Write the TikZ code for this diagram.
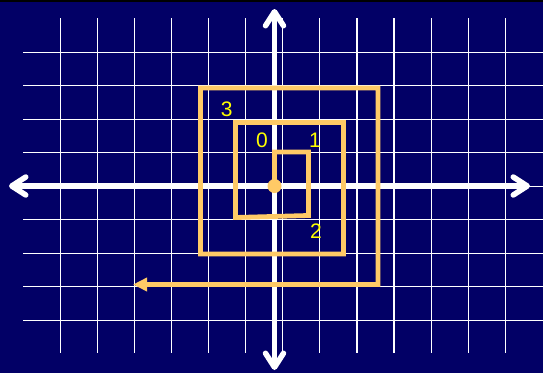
\documentclass[tikz,border=0pt]{standalone}
\usepackage{fontspec}
\setmainfont{Liberation Sans}
\usetikzlibrary{arrows.meta}
\definecolor{navybg}{RGB}{2,0,102}
\definecolor{spiralorange}{RGB}{255,202,102}
\definecolor{labelyellow}{RGB}{255,255,0}
\tikzset{
  gridline/.style={draw=white, line width=1.2pt},
  axisline/.style={draw=white, line width=5.5pt,
    {Straight Barb[length=14pt,width=18pt,line width=5.5pt,round]}-{Straight Barb[length=14pt,width=18pt,line width=5.5pt,round]}},
  spiralline/.style={draw=spiralorange, line width=4.8pt, line join=miter,
    -{Triangle[length=14pt,width=13pt]}},
  numlabel/.style={text=labelyellow, inner sep=0pt, font=\fontsize{21}{25}\selectfont}
}
\begin{document}
\begin{tikzpicture}[x=1pt,y=-1pt]
\useasboundingbox (0,0) rectangle (543,373);
\fill[navybg] (0,0) rectangle (543,373);
\fill[black] (0,0) rectangle (543,2);
% grid
\foreach \k in {0,...,12} {
  \draw[gridline] ({60.3+37.08*\k},18) -- ({60.3+37.08*\k},353);
}
\foreach \k in {0,...,8} {
  \draw[gridline] (23,{52.3+33.5*\k}) -- (543,{52.3+33.5*\k});
}
% axes
\coordinate (xl) at (9,186);
\coordinate (xr) at (530,186);
\coordinate (yt) at (274.5,9);
\coordinate (yb) at (274.5,370);
\draw[axisline] (xl) -- (xr);
\draw[axisline] (yb) -- (yt);
% spiral
\coordinate (o) at (274.5,186);
\draw[spiralline] (o) -- (274.5,152) -- (308.5,152) -- (308.5,215.5) -- (235.5,217.5)
  -- (235.5,122.5) -- (343.5,122.5) -- (343.5,254) -- (200.5,254) -- (200.5,88)
  -- (378,88) -- (378,284.5) -- (133,284.5);
\fill[spiralorange] (o) circle (7);
% labels
\node[numlabel] (l3) at (226.7,109) {3};
\node[numlabel] (l0) at (262,140) {0};
\node[numlabel] (l1) at (315,140) {1};
\node[numlabel] (l2) at (316,231) {2};
\end{tikzpicture}
\end{document}
